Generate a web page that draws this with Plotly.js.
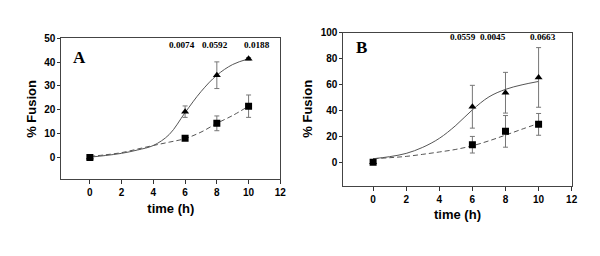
<!DOCTYPE html>
<html>
<head>
<meta charset="utf-8">
<script src="https://cdn.plot.ly/plotly-3.0.1.min.js"></script>
<style>html,body{margin:0;padding:0;background:#fff}#chart{width:600px;height:256px}</style>
</head>
<body>
<div id="chart"></div>
<script>
// time points
const timeH = [0, 6, 8, 10];

// Panel A measured points
const aTriY = [0, 19.2, 34.5, 41.4];
const aTriErr = [0, 2.4, 5.6, 0.5];
const aSqY = [0, 8.0, 14.3, 21.5];
const aSqErr = [0, 0.5, 3.1, 4.7];

// Panel A fitted curves
const curveX = [0, 1, 2, 3, 4, 5, 6, 7, 8, 9, 10];
const aTriFit = [0.1, 0.8, 1.7, 3.1, 5.0, 9.6, 18.8, 27.6, 34.5, 39.0, 41.4];
const aSqFit = [0.4, 1.1, 2.0, 3.5, 5.0, 6.4, 7.9, 10.6, 14.3, 17.6, 21.5];

// Panel B measured points
const bTriY = [0, 42.9, 53.7, 65.5];
const bTriErr = [0, 16.5, 15.7, 23.0];
const bSqY = [0, 13.6, 23.9, 29.3];
const bSqErr = [0, 6.4, 12.2, 8.4];

// Panel B fitted curves
const bTriFit = [2.8, 4.4, 6.9, 11.6, 18.5, 28.5, 40.5, 50.5, 56.3, 59.8, 62.4];
const bSqFit = [2.8, 3.6, 4.6, 6.2, 8.0, 10.0, 12.8, 16.6, 21.0, 25.6, 30.0];

// p-value labels
const aPLabels = ['0.0074', '0.0592', '0.0188'];
const aPX = [5.8, 7.9, 10.5];
const bPLabels = ['0.0559', '0.0045', '0.0663'];
const bPX = [5.45, 7.22, 10.25];

const xTicks = [0, 2, 4, 6, 8, 10, 12];
const yTitle = '% Fusion';
const xTitle = 'time (h)';

const fitLine = {color: '#555', width: 1};
const errStyle = {type: 'data', visible: true, color: '#777', thickness: 1, width: 2.5};

function fitTrace(y, dash, xa, ya) {
  return {x: curveX, y: y, mode: 'lines', line: Object.assign({}, fitLine, {dash: dash, shape: 'spline', smoothing: 1}),
          xaxis: xa, yaxis: ya, hoverinfo: 'skip'};
}
function ptTrace(y, err, sym, xa, ya) {
  return {x: timeH, y: y, mode: 'markers', marker: {symbol: sym, size: 7, color: '#000'},
          error_y: Object.assign({array: err}, errStyle), xaxis: xa, yaxis: ya};
}

const traces = [
  fitTrace(aTriFit, 'solid', 'x', 'y'),
  fitTrace(aSqFit, '5px,3px', 'x', 'y'),
  ptTrace(aTriY, aTriErr, 'triangle-up', 'x', 'y'),
  ptTrace(aSqY, aSqErr, 'square', 'x', 'y'),
  fitTrace(bTriFit, 'solid', 'x2', 'y2'),
  fitTrace(bSqFit, '5px,3px', 'x2', 'y2'),
  ptTrace(bTriY, bTriErr, 'triangle-up', 'x2', 'y2'),
  ptTrace(bSqY, bSqErr, 'square', 'x2', 'y2')
];

const tickFont = {family: 'Liberation Sans, Arial, sans-serif', size: 10, weight: 'bold', color: '#000'};
const titleFont = {family: 'Liberation Sans, Arial, sans-serif', size: 13, weight: 'bold', color: '#000'};

function xAxis(domain, anchor) {
  return {domain: domain, anchor: anchor, range: [-1.8, 12], tickvals: xTicks, ticktext: xTicks.map(String),
          ticks: 'outside', ticklen: 4, tickcolor: '#333', showline: true, mirror: true, linecolor: '#444',
          linewidth: 1, showgrid: false, zeroline: false, tickfont: tickFont,
          title: {text: xTitle, font: titleFont, standoff: 6}};
}
function yAxis(domain, anchor, range, dtick) {
  return {domain: domain, anchor: anchor, range: range, tick0: 0, dtick: dtick,
          ticks: 'outside', ticklen: 3, tickcolor: '#333', showline: true, mirror: true, linecolor: '#444',
          linewidth: 1, showgrid: false, zeroline: false, tickfont: tickFont, ticklabelstandoff: 0};
}

const pFont = {family: 'Liberation Serif, Times New Roman, serif', size: 9.2, weight: 'bold', color: '#000'};
const annotations = [];
aPLabels.forEach((t, i) => annotations.push({x: aPX[i], y: 47.3, xref: 'x', yref: 'y', text: t, showarrow: false, font: pFont}));
bPLabels.forEach((t, i) => annotations.push({x: bPX[i], y: 96.5, xref: 'x2', yref: 'y2', text: t, showarrow: false, font: pFont}));
const letterFont = {family: 'Liberation Serif, Times New Roman, serif', size: 17, weight: 'bold', color: '#000'};
annotations.push({x: -0.63, y: 42, xref: 'x', yref: 'y', text: 'A', showarrow: false, font: letterFont});
annotations.push({x: -0.7, y: 88.5, xref: 'x2', yref: 'y2', text: 'B', showarrow: false, font: letterFont});
// y-axis titles
annotations.push({x: 32 / 600, y: 1 - 108.8 / 256, xref: 'paper', yref: 'paper', text: yTitle, textangle: -90,
                  showarrow: false, font: titleFont, xanchor: 'center', yanchor: 'middle'});
annotations.push({x: 307.5 / 600, y: 1 - 109.2 / 256, xref: 'paper', yref: 'paper', text: yTitle, textangle: -90,
                  showarrow: false, font: titleFont, xanchor: 'center', yanchor: 'middle'});

const layout = {
  width: 600, height: 256,
  margin: {l: 0, r: 0, t: 0, b: 0},
  paper_bgcolor: '#fff', plot_bgcolor: '#fff',
  showlegend: false,
  xaxis: xAxis([0.1022, 0.4672], 'y'),
  yaxis: yAxis([0.2996, 0.8504], 'x', [-9.2, 50], 10),
  xaxis2: xAxis([0.5722, 0.9528], 'y2'),
  yaxis2: yAxis([0.2746, 0.8723], 'x2', [-18, 100], 20),
  annotations: annotations
};

Plotly.newPlot('chart', traces, layout, {displayModeBar: false, staticPlot: true});
</script>
</body>
</html>
